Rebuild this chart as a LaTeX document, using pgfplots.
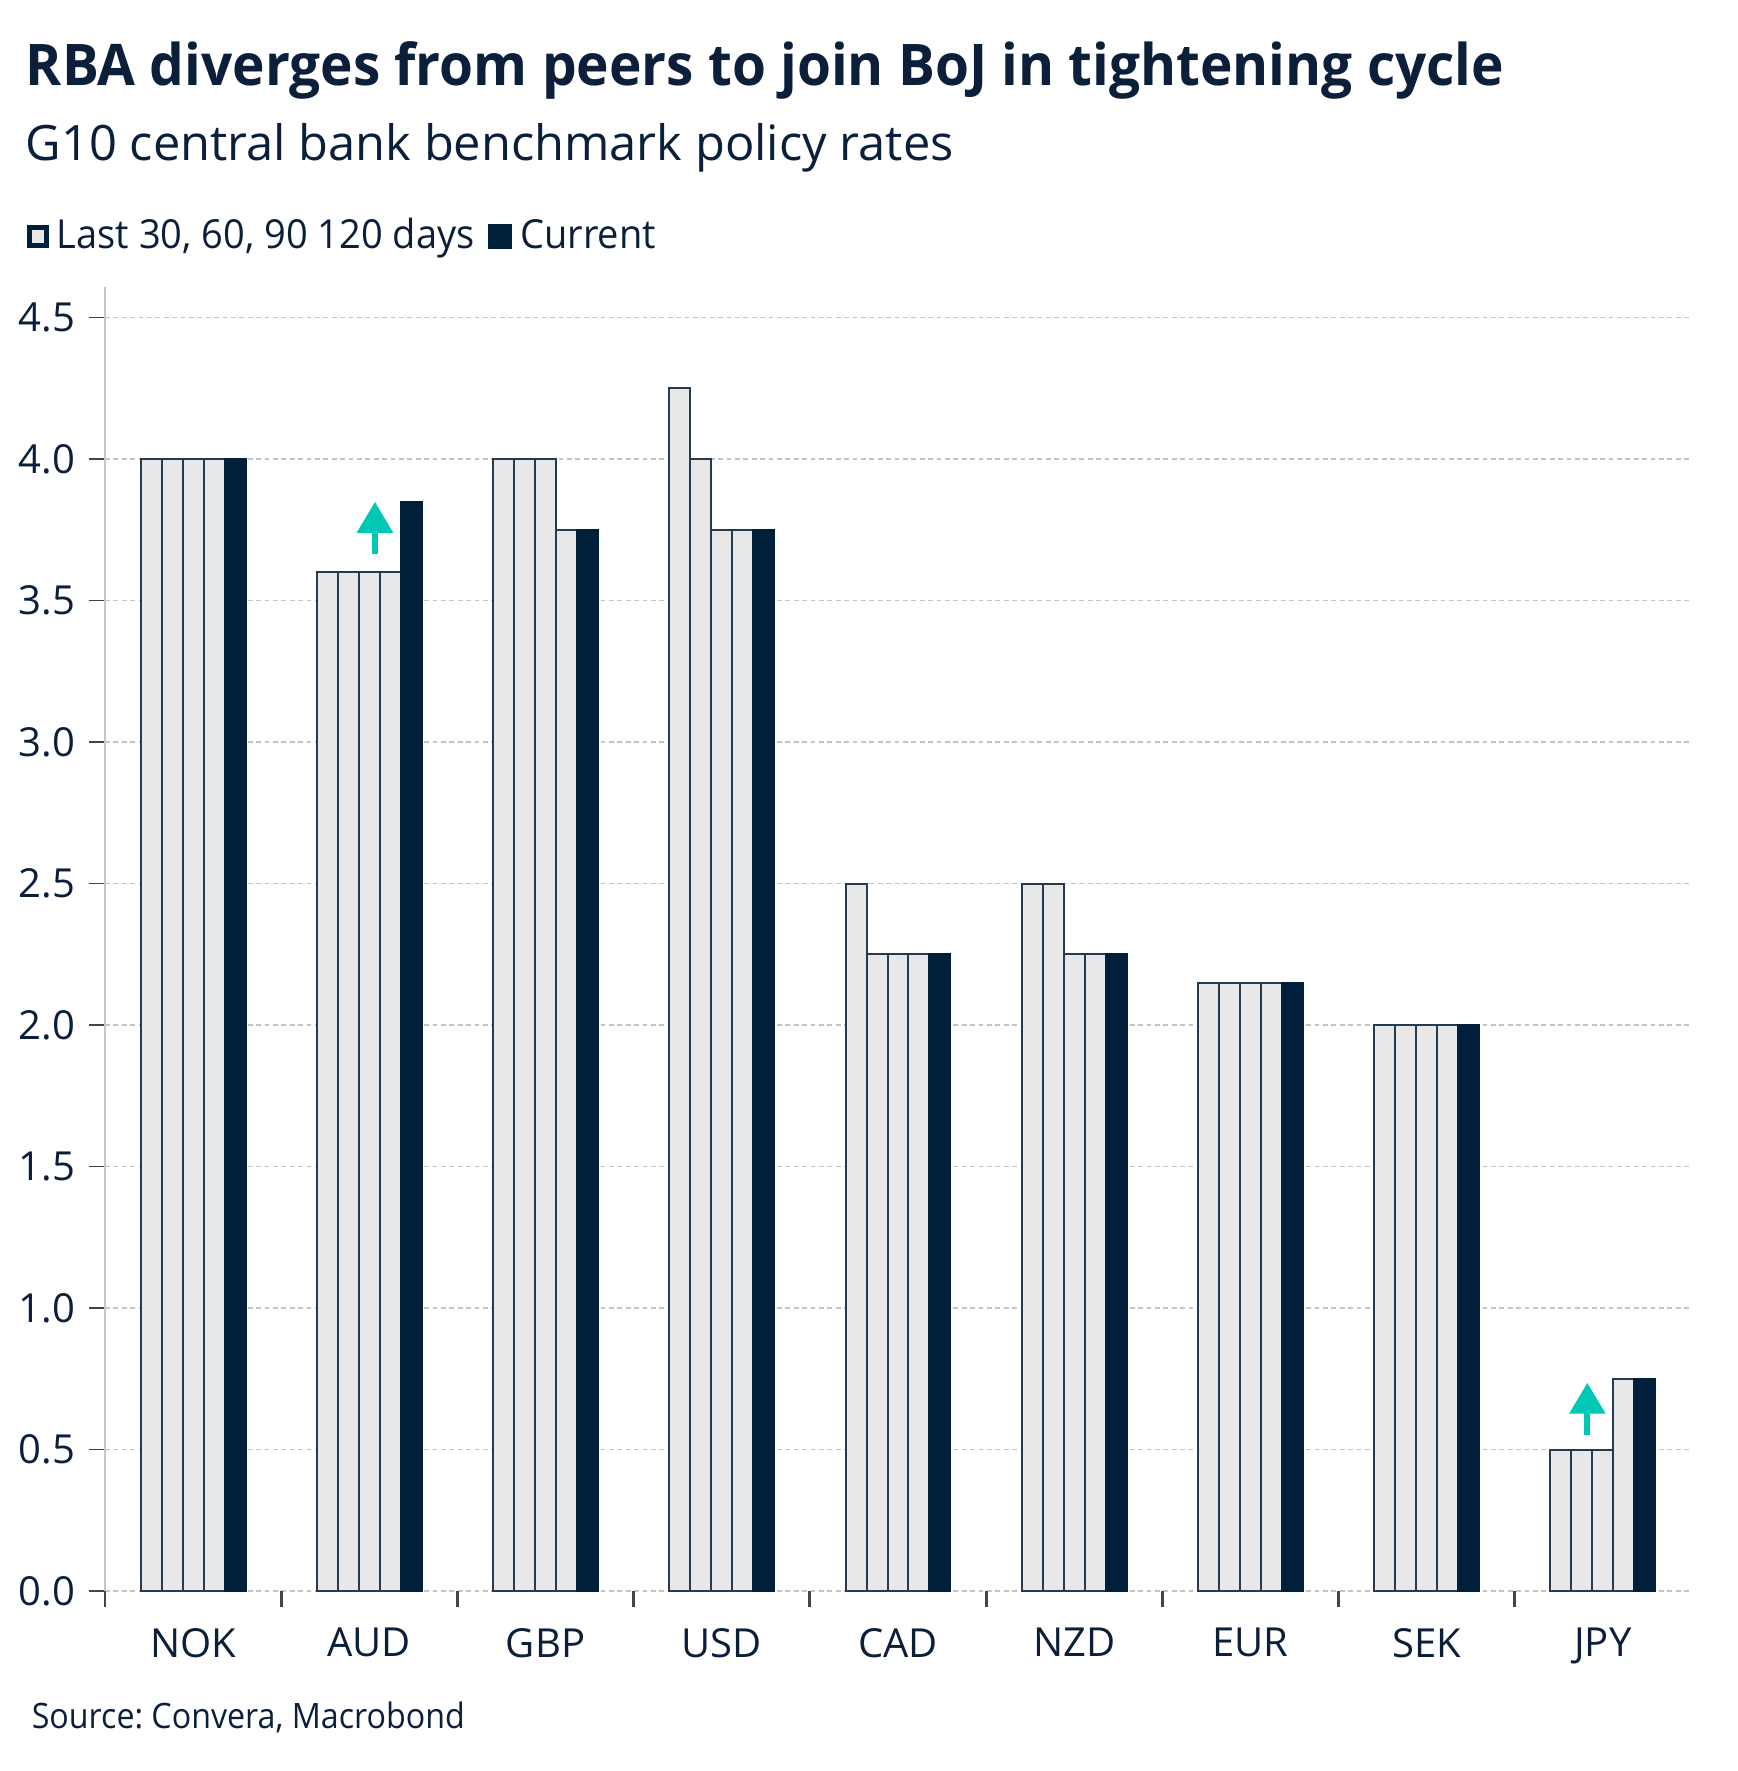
\documentclass[border=0pt]{standalone}
\usepackage{fontspec}
\setmainfont{Open Sans}
\newfontfamily\titlefont[FakeStretch=0.957]{Open Sans}
\newfontfamily\legfont[FakeStretch=0.95]{Open Sans}
\newfontfamily\srcfont[FakeStretch=0.92]{Open Sans}
\usepackage{pgfplots}
\pgfplotsset{compat=1.18}
\usetikzlibrary{arrows.meta}
\frenchspacing
\definecolor{navy}{HTML}{0B1F3A}
\definecolor{barlight}{HTML}{E8E8E8}
\definecolor{bardark}{HTML}{001F3A}
\definecolor{baredge}{HTML}{263A50}
\definecolor{arrowteal}{HTML}{00C8B4}
\definecolor{gridgray}{HTML}{C4C4C4}
\definecolor{tickgray}{HTML}{444444}
\begin{document}
\begin{tikzpicture}
\path (0,0) rectangle (434.5pt,-442.75pt);
\begin{scope}[x=0.25pt,y=-0.25pt]
\node[anchor=base west, inner sep=0pt, text=navy, font=\titlefont\bfseries\fontsize{14.35}{17}\selectfont] at (25,85) {RBA diverges from peers to join BoJ in tightening cycle};
\node[anchor=base west, inner sep=0pt, text=navy, font=\fontsize{12.2}{15}\selectfont] at (25,160) {G10 central bank benchmark policy rates};
\node[anchor=base west, inner sep=0pt, text=navy, font=\srcfont\fontsize{8.75}{11}\selectfont] at (31,1728) {Source: Convera, Macrobond};
\end{scope}
\begin{axis}[
  at={(26.25pt,-397.75pt)}, anchor=south west,
  scale only axis, width=396.5pt, height=326pt,
  xmin=-0.5, xmax=8.5, ymin=0, ymax=4.608,
  axis x line*=bottom, axis y line*=left,
  x axis line style={draw=none},
  y axis line style={draw=gray!45, line width=0.35pt},
  tick align=outside,
  major tick length=4pt, minor tick length=4pt,
  xtick={0,...,8},
  xticklabels={NOK,AUD,GBP,USD,CAD,NZD,EUR,SEK,JPY},
  xticklabel style={yshift=-1.75pt},
  minor xtick={-0.5,0.5,...,7.5},
  x tick style={draw=none},
  minor x tick style={draw=tickgray, line width=0.7pt},
  ytick={0,0.5,...,4.5},
  y tick style={draw=tickgray, line width=0.35pt},
  ymajorgrids,
  grid style={gridgray, dash pattern=on 1.2pt off 0.9pt, line width=0.35pt},
  /pgf/number format/assume math mode=true,
  yticklabel style={/pgf/number format/fixed, /pgf/number format/fixed zerofill, /pgf/number format/precision=1},
  tick label style={font=\fontsize{10}{12}\selectfont, text=navy},
  legend style={at={(-0.0498,1.0387)}, anchor=west, draw=none, fill=none,
    inner sep=0pt, font=\legfont\fontsize{10}{12}\selectfont, text=navy,
    legend columns=2, cells={anchor=west},
    /tikz/every odd column/.append style={column sep=0pt},
    /tikz/every even column/.append style={column sep=1.5pt}},
  legend cell align=left,
]
\addplot[ybar, bar width=0.119, bar shift=-0.238, fill=barlight, draw=baredge, line width=0.5pt,
  legend image code/.code={\draw[fill=barlight, draw=bardark, line width=1.25pt] (0.625pt,-2.25pt) rectangle (4.875pt,2.25pt);}]
  coordinates {(0,4.00) (1,3.60) (2,4.00) (3,4.25) (4,2.50) (5,2.50) (6,2.15) (7,2.00) (8,0.50)};
\addlegendentry{Last 30, 60, 90 120 days}
\addplot[ybar, bar width=0.119, bar shift=-0.119, fill=barlight, draw=baredge, line width=0.5pt, forget plot]
  coordinates {(0,4.00) (1,3.60) (2,4.00) (3,4.00) (4,2.25) (5,2.50) (6,2.15) (7,2.00) (8,0.50)};
\addplot[ybar, bar width=0.119, bar shift=0, fill=barlight, draw=baredge, line width=0.5pt, forget plot]
  coordinates {(0,4.00) (1,3.60) (2,4.00) (3,3.75) (4,2.25) (5,2.25) (6,2.15) (7,2.00) (8,0.50)};
\addplot[ybar, bar width=0.119, bar shift=0.119, fill=barlight, draw=baredge, line width=0.5pt, forget plot]
  coordinates {(0,4.00) (1,3.60) (2,3.75) (3,3.75) (4,2.25) (5,2.25) (6,2.15) (7,2.00) (8,0.75)};
\addplot[ybar, bar width=0.119, bar shift=0.238, fill=bardark, draw=bardark, line width=0.5pt,
  legend image code/.code={\fill[bardark] (0pt,-2.875pt) rectangle (5.5pt,2.875pt);}]
  coordinates {(0,4.00) (1,3.85) (2,3.75) (3,3.75) (4,2.25) (5,2.25) (6,2.15) (7,2.00) (8,0.75)};
\addlegendentry{Current}
\addplot[arrowteal, line width=1.5pt, -{Triangle[length=7.75pt,width=8.75pt]}, forget plot]
  coordinates {(1.032,3.664) (1.032,3.849)};
\addplot[arrowteal, line width=1.5pt, -{Triangle[length=7.75pt,width=8.75pt]}, forget plot]
  coordinates {(7.912,0.551) (7.912,0.736)};
\end{axis}
\end{tikzpicture}
\end{document}
